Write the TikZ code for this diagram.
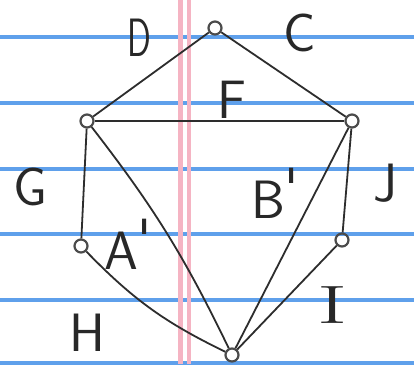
\documentclass[tikz,border=0pt]{standalone}
\usepackage{tikz}
\usepackage{textcomp}
\begin{document}
\begin{tikzpicture}[x=1pt,y=-1pt,
  ruled/.style={draw={rgb,255:red,95;green,160;blue,235}, line width=3.5pt},
  margin/.style={draw={rgb,255:red,245;green,180;blue,195}, line width=4.5pt},
  vert/.style={circle, draw={rgb,255:red,75;green,75;blue,75}, line width=2.2pt, minimum size=13pt, inner sep=0pt},
  edge/.style={draw={rgb,255:red,45;green,45;blue,45}, line width=1.8pt},
  lab/.style={text={rgb,255:red,40;green,40;blue,40}, font=\fontsize{54}{54}\selectfont\sffamily, inner sep=0pt}]
\useasboundingbox (0,0) rectangle (414,364);
\fill[white] (0,0) rectangle (414,364);
% paper
\foreach \yy in {37,103,169,234,300,363} \draw[ruled] (0,\yy) -- (414,\yy);
\draw[margin] (180.5,0) -- (180.5,364);
\draw[margin] (189,0) -- (189,364);
% vertices
\node[vert] (top) at (215,28) {};
\node[vert] (lt) at (87,121) {};
\node[vert] (rt) at (352,121) {};
\node[vert] (lb) at (81,246) {};
\node[vert] (rb) at (342,240) {};
\node[vert] (bot) at (232,355) {};
% edges
\draw[edge] (top) -- (lt);
\draw[edge] (top) -- (rt);
\draw[edge] (lt) -- (rt);
\draw[edge] (lt) -- (lb);
\draw[edge] (rt) -- (rb);
\draw[edge] (lt) to[bend left=6] (bot);
\draw[edge] (rt) -- (bot);
\draw[edge] (lb) to[bend right=10] (bot);
\draw[edge] (rb) -- (bot);
% labels
\node[lab] (lD) at (139,38) {\scalebox{0.65}[1]{D}};
\node[lab] (lC) at (300,33) {C};
\node[lab] (lF) at (232,100) {F};
\node[lab] (lG) at (30,187) {G};
\node[lab] (lJ) at (385,183) {J};
\node[lab] (lB) at (275,193) {B\raisebox{12pt}{\textquotesingle}};
\node[lab] (lA) at (128,244) {A\raisebox{12pt}{\textquotesingle}};
\node[lab] (lH) at (87,333) {H};
\node[lab] (lI) at (333,305) {\scalebox{1.7}[1]{\rmfamily I}};
\end{tikzpicture}
\end{document}
